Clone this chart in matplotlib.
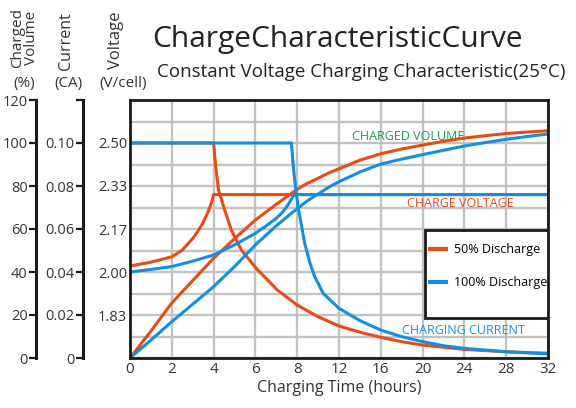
import numpy as np
import matplotlib.pyplot as plt
from matplotlib.patches import Rectangle

plt.rcParams['font.family'] = ['Open Sans', 'DejaVu Sans']

RED = '#ea4a14'
BLUE = '#148fe0'
GREEN = '#1f9a52'
GRID = '#c2c2c2'
TXT = '#333333'

# charging time ticks (hours); axis is 2 h per division up to 8 h, then 4 h
xticks = [0, 2, 4, 6, 8, 12, 16, 20, 24, 28, 32]

# charged volume (%)
t_vol_50 = [0, 1, 2, 3, 4, 5, 6, 7, 8, 9, 10, 11, 12, 14, 16, 18, 20, 22, 24, 26, 28, 30, 32]
vol_50 = [0, 12.5, 25.6, 36, 46.4, 55.5, 64.2, 71.5, 78.5, 81.3, 83.6, 86, 88, 92, 95,
          97.2, 99, 100.8, 102.3, 103.4, 104.4, 105.1, 105.7]
t_vol_100 = [0, 1, 2, 3, 4, 5, 6, 7, 8, 9, 10, 11, 12, 14, 16, 18, 20, 22, 24, 26, 28, 30, 32]
vol_100 = [0, 8.3, 16.9, 25, 33.2, 42.5, 52.6, 61.5, 69.5, 73.2, 76.3, 79.4, 82, 86.5, 90.2,
           92.5, 94.6, 96.6, 98.6, 100.2, 101.7, 103, 104.2]

# charge voltage (V/cell)
t_volt_50 = [0, 1, 2, 2.5, 3, 3.25, 3.5, 3.75, 3.9, 4, 32]
volt_50 = [2.023, 2.038, 2.059, 2.085, 2.130, 2.158, 2.192, 2.236, 2.270, 2.30, 2.30]
t_volt_100 = [0, 1, 2, 3, 4, 5, 6, 6.5, 7, 7.3, 7.5, 7.65, 7.78, 7.87, 32]
volt_100 = [2.000, 2.010, 2.021, 2.042, 2.066, 2.105, 2.150, 2.178, 2.208, 2.232, 2.253,
            2.272, 2.290, 2.30, 2.30]

# charging current (CA)
t_cur_50 = [0, 4, 4.1, 4.24, 4.53, 4.85, 5.33, 6.04, 7.05, 8.04, 10, 12, 14, 16, 18, 20, 22,
            24, 28, 32]
cur_50 = [0.10, 0.10, 0.089, 0.078, 0.0688, 0.0595, 0.0502, 0.0417, 0.0316, 0.0245, 0.0192,
          0.0149, 0.012, 0.0096, 0.0076, 0.006, 0.005, 0.004, 0.0029, 0.0022]
t_cur_100 = [0, 7.72, 7.8, 7.88, 8.08, 8.72, 9.23, 9.68, 10.5, 12, 14, 16, 18, 20, 22, 24, 28, 32]
cur_100 = [0.10, 0.10, 0.0905, 0.0828, 0.0704, 0.0533, 0.044, 0.0378, 0.030, 0.0231, 0.0174,
           0.013, 0.0099, 0.0076, 0.0057, 0.0045, 0.0029, 0.0019]

vol_ticks = [0, 20, 40, 60, 80, 100, 120]
cur_ticks = [0, 0.02, 0.04, 0.06, 0.08, 0.10, 0.12]
cur_labels = ['0', '0.02', '0.04', '0.06', '0.08', '0.10', '']
volt_ticks = [11/6, 2.0, 13/6, 7/3, 2.5]


def fwd(t):
    t = np.asarray(t, float)
    return np.where(t <= 8, t / 2, 4 + (t - 8) / 4)


def inv(p):
    p = np.asarray(p, float)
    return np.where(p <= 4, p * 2, 8 + (p - 4) * 4)


def volt_pct(v):
    return (np.asarray(v) - 5 / 3) * 120


def cur_pct(a):
    return np.asarray(a) * 1000


W, H = 576, 408


def fx(x):
    return x / W


def fy(y):
    return 1 - y / H


fig = plt.figure(figsize=(W / 100, H / 100), dpi=100)
ax = fig.add_axes([fx(130), fy(358), 418 / W, 258 / H])
ax.set_xscale('function', functions=(fwd, inv))
ax.set_xlim(0, 32)
ax.set_ylim(0, 120)
ax.set_xticks(xticks)
ax.set_xticklabels([str(t) for t in xticks])
ax.set_yticks(volt_pct(volt_ticks))
ax.set_yticklabels(['%.2f' % v for v in volt_ticks])
ax.set_yticks(np.arange(0, 121, 10), minor=True)
ax.grid(axis='x', which='major', color=GRID, lw=1.7)
ax.grid(axis='y', which='both', color=GRID, lw=1.7)
ax.set_axisbelow(True)
ax.tick_params(which='both', length=0, labelcolor=TXT)
ax.tick_params(axis='x', labelsize=11, pad=3)
ax.tick_params(axis='y', labelsize=10.5, pad=2)
for s in ax.spines.values():
    s.set_linewidth(2)
    s.set_color('#1a1a1a')

lw = 2.2
kw = dict(lw=lw, solid_joinstyle='round', solid_capstyle='round')
ax.plot(t_vol_50, vol_50, color=RED, **kw)
ax.plot(t_volt_50, volt_pct(volt_50), color=RED, **kw)
ax.plot(t_cur_50, cur_pct(cur_50), color=RED, label='50% Discharge', **kw)
ax.plot(t_vol_100, vol_100, color=BLUE, **kw)
ax.plot(t_volt_100, volt_pct(volt_100), color=BLUE, **kw)
ax.plot(t_cur_100, cur_pct(cur_100), color=BLUE, label='100% Discharge', **kw)

ax.set_xlabel('Charging Time (hours)', fontsize=11.5, color=TXT, labelpad=2)

# legend box
x0 = (425 - 130) / 418
y0 = (358 - 318) / 258
ax.add_patch(Rectangle((x0, y0), 1 - x0, (318 - 230) / 258, transform=ax.transAxes,
                       facecolor='white', edgecolor='#1a1a1a', lw=2, zorder=3))
leg = ax.legend(loc='upper left', bbox_to_anchor=((428 - 130) / 418, (358 - 243) / 258),
                frameon=False, fontsize=9, handlelength=1.6, handletextpad=0.45,
                labelspacing=1.6, borderpad=0, borderaxespad=0)
leg.set_zorder(4)
for h in leg.get_lines():
    h.set_linewidth(3)
    h.set_solid_capstyle('butt')

# curve labels
fig.text(fx(352), fy(137), 'CHARGED VOLUME', color=GREEN, fontsize=9, va='center')
fig.text(fx(407), fy(203.5), 'CHARGE VOLTAGE', color=RED, fontsize=9, va='center')
fig.text(fx(402), fy(331), 'CHARGING CURRENT', color=BLUE, fontsize=9, va='center')


def side_axis(xpix, ticks, labels):
    a = fig.add_axes([fx(xpix), fy(358), 0.0005, 258 / H])
    a.set_ylim(0, 120)
    a.set_xticks([])
    for s in ['top', 'right', 'bottom']:
        a.spines[s].set_visible(False)
    a.spines['left'].set_linewidth(2.2)
    a.spines['left'].set_color('#1a1a1a')
    a.patch.set_visible(False)
    a.set_yticks(ticks)
    a.set_yticklabels(labels)
    a.tick_params(axis='y', length=5, width=1.6, pad=1, labelsize=10.5,
                  color='#1a1a1a', labelcolor=TXT)
    return a


side_axis(36, vol_ticks, [str(v) for v in vol_ticks])
side_axis(83, cur_pct(cur_ticks), cur_labels)

# axis headers
fig.text(fx(25), fy(38), 'Charged\nVolume', rotation=90, ha='center', va='center',
         fontsize=11, color=TXT, linespacing=0.9)
fig.text(fx(24), fy(83), '(%)', ha='center', va='center', fontsize=11, color=TXT)
fig.text(fx(66), fy(41), 'Current', rotation=90, ha='center', va='center',
         fontsize=11.5, color=TXT)
fig.text(fx(68), fy(83), '(CA)', ha='center', va='center', fontsize=11, color=TXT)
fig.text(fx(116), fy(40), 'Voltage', rotation=90, ha='center', va='center',
         fontsize=12, color=TXT)
fig.text(fx(123), fy(83), '(V/cell)', ha='center', va='center', fontsize=11, color=TXT)

fig.text(fx(152), fy(47), 'ChargeCharacteristicCurve', fontsize=21.5, color='#222222',
         va='baseline')
fig.text(fx(157), fy(77), 'Constant Voltage Charging Characteristic(25\u00b0C)',
         fontsize=13.5, color='#222222', va='baseline')

fig.savefig('out.png', dpi=100)
